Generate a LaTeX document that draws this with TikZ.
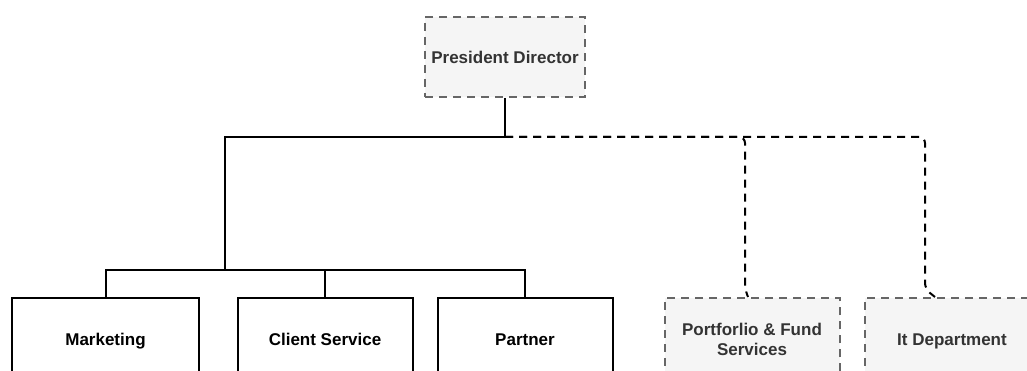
\documentclass[tikz,border=0pt]{standalone}
\usepackage[rgb]{xcolor}
\usepackage{fontspec}
\setmainfont{Liberation Sans}
\usepackage{tikz}

\definecolor{boxgray}{HTML}{F5F5F5}
\definecolor{edgegray}{HTML}{666666}
\definecolor{textgray}{HTML}{333333}

\begin{document}
\begin{tikzpicture}[x=1pt, y=-1pt,
  unit/.style={draw=black, line width=2pt, fill=white, minimum height=80pt,
    minimum width=175pt, align=center, font=\fontsize{17}{20}\selectfont\bfseries,
    inner sep=0pt, text height=14pt, text depth=0pt},
  staff/.style={unit, draw=edgegray, fill=boxgray, text=textgray,
    dash pattern=on 8pt off 6pt},
  link/.style={draw=black, line width=2pt},
  dlink/.style={draw=black, line width=2pt, dash pattern=on 8pt off 6pt, rounded corners=6pt}]

\useasboundingbox (0,0) rectangle (1027,371);
\clip (0,0) rectangle (1027,371);



% President
\path 
(505,57) node [staff, minimum width=160pt] (pres) {President Director};




% Departments
\path 
(105.5,338) node [unit, minimum width=187pt] (mkt) {Marketing};

\path 
(325,338) node [unit] (cs) {Client Service};

\path 
(525,338) node [unit] (ptn) {Partner};


% Staff units
\path 
(752,338) node [staff, text height=34pt] (pfs) {Portforlio \& Fund\\Services};

\path 
(952,338) node [staff] (itd) {It Department};


% Line junctions
\coordinate (hub) at (505,137);
\coordinate (bus) at (225,270);


% Solid lines
\draw[link] (pres.south) -- (hub) -| (bus);

\draw[link] (mkt.north) |- (bus) -| (ptn.north);

\draw[link] (cs.north) -- (cs.north |- bus);


% Dashed lines
\draw[dlink] (hub) -| ([xshift=-7pt, yshift=8pt]pfs.north) -- ([xshift=-4pt]pfs.north);

\draw[dlink] (hub) -| ([xshift=-27pt, yshift=8pt]itd.north) -- ([xshift=-17pt]itd.north);




\end{tikzpicture}
\end{document}
